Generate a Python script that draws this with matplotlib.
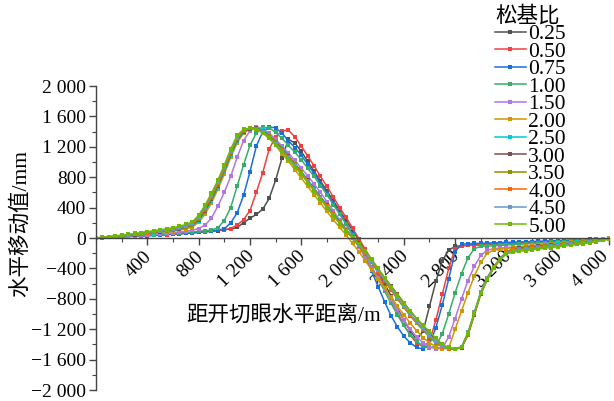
import matplotlib
matplotlib.use("Agg")
import matplotlib.pyplot as plt
import matplotlib.transforms as mtransforms
from matplotlib.ticker import MultipleLocator

plt.rcParams['font.family'] = ['Liberation Serif', 'Noto Sans CJK SC']
plt.rcParams['axes.unicode_minus'] = True

# distance from open-off cut, m (one point every 50 m)
distance = list(range(0, 4001, 50))

ratios = ["0.25", "0.50", "0.75", "1.00", "1.50", "2.00",
          "2.50", "3.00", "3.50", "4.00", "4.50", "5.00"]
colors = ["#515151", "#F14040", "#1A6FDF", "#37AD6B", "#B177DE", "#CC9900",
          "#00CBCC", "#7D4E4E", "#8E8E00", "#FB6501", "#6699CC", "#6FB802"]

# horizontal movement, mm
r025 = [0, 4, 8, 12, 16, 20, 24, 28, 32, 36,
        40, 45, 50, 55, 61, 67, 74, 81, 89, 97,
        108, 120, 140, 200, 260, 310, 380, 520, 760, 1050,
        1300, 1250, 1140, 1010, 880, 750, 620, 490, 360, 230,
        100, -30, -160, -300, -450, -600, -760, -920, -1080, -1220,
        -1340, -1230, -900, -570, -300, -160, -110, -100, -96, -92,
        -88, -84, -80, -76, -72, -68, -64, -60, -56, -52,
        -48, -44, -40, -36, -32, -28, -24, -20, -16, -12,
        -8]
r050 = [0, 4, 8, 12, 16, 20, 24, 28, 32, 36,
        41, 46, 51, 57, 63, 69, 76, 83, 91, 99,
        108, 125, 170, 240, 360, 600, 860, 1170, 1330, 1410,
        1420, 1330, 1210, 1080, 950, 810, 680, 540, 400, 270,
        130, -10, -150, -300, -470, -640, -810, -980, -1140, -1280,
        -1380, -1430, -1360, -1080, -740, -400, -140, -105, -98, -93,
        -88, -84, -80, -76, -72, -68, -64, -60, -56, -52,
        -48, -44, -40, -36, -32, -28, -24, -20, -16, -12,
        -8]
r075 = [0, 4, 8, 12, 16, 20, 24, 28, 32, 37,
        42, 47, 53, 59, 65, 72, 79, 87, 95, 104,
        120, 200, 330, 560, 870, 1210, 1400, 1460, 1450, 1380,
        1280, 1190, 1090, 970, 850, 720, 590, 460, 330, 190,
        50, -100, -260, -440, -640, -840, -1020, -1170, -1290, -1380,
        -1440, -1460, -1400, -1180, -880, -540, -180, -80, -76, -72,
        -70, -67, -64, -61, -58, -55, -52, -49, -46, -43,
        -40, -37, -34, -31, -28, -25, -22, -19, -16, -12,
        -8]
r100 = [0, 4, 8, 13, 18, 23, 28, 33, 38, 43,
        48, 54, 60, 66, 73, 80, 88, 96, 105, 135,
        230, 400, 680, 960, 1220, 1380, 1455, 1450, 1390, 1310,
        1220, 1130, 1030, 920, 810, 690, 570, 440, 310, 180,
        40, -90, -230, -380, -540, -700, -860, -1010, -1150, -1270,
        -1360, -1420, -1450, -1420, -1260, -1000, -720, -470, -260, -140,
        -110, -106, -102, -97, -92, -87, -82, -77, -72, -67,
        -62, -57, -52, -47, -42, -36, -30, -24, -18, -12,
        -6]
r150 = [0, 5, 10, 15, 20, 26, 32, 38, 44, 50,
        56, 63, 70, 78, 88, 102, 125, 170, 260, 420,
        600, 810, 1060, 1280, 1410, 1465, 1440, 1380, 1300, 1210,
        1120, 1020, 920, 820, 710, 600, 480, 360, 240, 120,
        0, -120, -250, -390, -530, -670, -810, -950, -1080, -1200,
        -1300, -1380, -1430, -1460, -1450, -1300, -1060, -800, -560, -370,
        -230, -160, -140, -133, -126, -119, -112, -105, -98, -91,
        -84, -77, -70, -63, -56, -49, -42, -34, -26, -18,
        -10]
r200 = [0, 5, 11, 17, 24, 31, 39, 47, 55, 64,
        73, 82, 92, 104, 120, 145, 205, 315, 460, 640,
        840, 1060, 1250, 1380, 1435, 1445, 1400, 1320, 1220, 1110,
        1010, 900, 790, 680, 570, 460, 350, 240, 140, 40,
        -70, -180, -300, -420, -540, -660, -780, -900, -1010, -1120,
        -1220, -1310, -1380, -1430, -1460, -1450, -1200, -960, -720, -500,
        -320, -200, -160, -148, -138, -128, -119, -110, -102, -94,
        -86, -78, -70, -62, -54, -46, -38, -30, -22, -14,
        -6]
r250 = [0, 6, 12, 19, 27, 35, 43, 52, 61, 70,
        79, 89, 100, 114, 132, 160, 225, 340, 490, 670,
        870, 1080, 1270, 1390, 1440, 1450, 1420, 1355, 1275, 1185,
        1085, 980, 875, 765, 655, 545, 435, 325, 215, 105,
        0, -100, -210, -320, -440, -560, -680, -800, -910, -1020,
        -1120, -1210, -1300, -1380, -1440, -1460, -1460, -1440, -1260, -980,
        -710, -520, -380, -270, -185, -140, -130, -122, -114, -106,
        -98, -90, -82, -74, -66, -57, -48, -39, -30, -20,
        -7]
r300 = [0, 6, 13, 21, 29, 37, 46, 55, 64, 73,
        83, 93, 105, 120, 140, 168, 240, 360, 510, 690,
        890, 1100, 1290, 1400, 1440, 1445, 1410, 1345, 1265, 1175,
        1075, 975, 870, 760, 650, 540, 430, 320, 210, 105,
        5, -90, -190, -300, -410, -520, -630, -740, -850, -960,
        -1060, -1160, -1250, -1340, -1410, -1450, -1460, -1445, -1280, -1010,
        -740, -550, -395, -280, -190, -145, -135, -127, -119, -111,
        -103, -95, -87, -79, -70, -61, -52, -43, -34, -23,
        -8]
r350 = [0, 6, 14, 22, 30, 39, 48, 57, 67, 77,
        87, 97, 110, 126, 146, 176, 250, 375, 530, 700,
        900, 1110, 1300, 1410, 1445, 1440, 1405, 1340, 1260, 1170,
        1070, 970, 865, 755, 645, 535, 425, 315, 205, 105,
        10, -100, -210, -320, -440, -560, -680, -800, -910, -1020,
        -1120, -1210, -1300, -1380, -1430, -1455, -1460, -1440, -1270, -1000,
        -730, -540, -390, -275, -190, -150, -140, -132, -124, -116,
        -108, -99, -90, -81, -72, -63, -54, -45, -35, -24,
        -8]
r400 = [0, 7, 15, 23, 32, 41, 51, 61, 71, 81,
        91, 102, 115, 132, 153, 185, 265, 390, 550, 720,
        920, 1130, 1320, 1415, 1445, 1440, 1400, 1330, 1250, 1160,
        1060, 960, 860, 750, 640, 530, 420, 310, 200, 100,
        5, -95, -200, -310, -430, -550, -670, -790, -900, -1010,
        -1110, -1200, -1290, -1370, -1430, -1455, -1460, -1440, -1260, -990,
        -720, -530, -380, -270, -190, -160, -150, -141, -132, -123,
        -114, -105, -96, -87, -78, -69, -60, -50, -39, -26,
        -10]
r450 = [0, 7, 16, 25, 34, 43, 54, 65, 76, 86,
        97, 108, 122, 140, 162, 195, 280, 410, 570, 740,
        940, 1150, 1330, 1420, 1445, 1435, 1390, 1320, 1240, 1150,
        1050, 950, 850, 740, 630, 520, 410, 300, 195, 95,
        0, -90, -190, -300, -420, -540, -660, -780, -890, -1000,
        -1100, -1190, -1280, -1360, -1420, -1450, -1455, -1430, -1240, -980,
        -710, -530, -390, -280, -200, -170, -160, -150, -140, -130,
        -120, -111, -102, -93, -84, -75, -65, -54, -42, -28,
        -10]
r500 = [0, 8, 18, 28, 38, 48, 60, 72, 85, 95,
        108, 120, 135, 155, 178, 210, 300, 430, 590, 760,
        960, 1170, 1350, 1430, 1447, 1430, 1380, 1310, 1230, 1140,
        1040, 940, 840, 730, 620, 510, 400, 290, 190, 90,
        0, -80, -170, -280, -400, -520, -640, -750, -860, -960,
        -1060, -1150, -1230, -1320, -1400, -1440, -1455, -1440, -1250, -990,
        -720, -540, -400, -290, -210, -185, -175, -165, -155, -145,
        -135, -125, -115, -105, -95, -85, -74, -62, -48, -32,
        -12]

series = [r025, r050, r075, r100, r150, r200,
          r250, r300, r350, r400, r450, r500]

xtick_vals = [400, 800, 1200, 1600, 2000, 2400, 2800, 3200, 3600, 4000]
xtick_text = ["400", "800", "1 200", "1 600", "2 000", "2 400",
              "2 800", "3 200", "3 600", "4 000"]
ytick_vals = [-2000, -1600, -1200, -800, -400, 0, 400, 800, 1200, 1600, 2000]
ytick_text = ["\u22122 000", "\u22121 600", "\u22121 200", "\u2212800", "\u2212400",
              "0", "400", "800", "1 200", "1 600", "2 000"]

fig = plt.figure(figsize=(6.14, 4.01), dpi=100)
ax = fig.add_axes([0.1564, 0.0274, 0.8355, 0.7581])

for lab, col, vals in zip(ratios, colors, series):
    ax.plot(distance, vals, '-s', color=col, lw=1.1, ms=3.5,
            markeredgewidth=0, label=lab)

ax.set_xlim(0, 4000)
ax.set_ylim(-2000, 2000)

ax.spines['top'].set_visible(False)
ax.spines['right'].set_visible(False)
ax.spines['bottom'].set_position(('data', 0))
for s in ['left', 'bottom']:
    ax.spines[s].set_color('#444444')
    ax.spines[s].set_linewidth(1.0)

ax.set_xticks(xtick_vals)
ax.set_xticklabels(xtick_text, rotation=45, ha='right', rotation_mode='anchor')
ax.set_yticks(ytick_vals)
ax.set_yticklabels(ytick_text)
ax.xaxis.set_minor_locator(MultipleLocator(200))
ax.yaxis.set_minor_locator(MultipleLocator(200))
ax.tick_params(which='major', length=5, width=1.0, color='#444444',
               labelsize=14, direction='out')
ax.tick_params(which='minor', length=3, width=0.8, color='#444444',
               direction='out')
ax.tick_params(axis='y', pad=2)
ax.tick_params(axis='x', pad=2)

# nudge rotated x labels a little left; the last one a bit more so it stays inside
xlabels = ax.get_xticklabels()
for i, t in enumerate(xlabels):
    dx = -9 if i == len(xlabels) - 1 else -4
    shift = mtransforms.ScaledTranslation(dx / 100, 0, fig.dpi_scale_trans)
    t.set_transform(t.get_transform() + shift)

fig.text(0.033, 0.443, "水平移动值/mm", rotation=90, fontsize=15.5,
         ha='center', va='center')
fig.text(0.4625, 0.212, "距开切眼水平距离/m", fontsize=15.5,
         ha='center', va='center')

leg = ax.legend(loc='upper left', bbox_to_anchor=(0.806, 0.985),
                bbox_transform=fig.transFigure, frameon=False,
                title="松基比", fontsize=15.5, title_fontsize=15.5,
                labelspacing=-0.12, handlelength=1.45, handletextpad=0.1,
                borderpad=0.0, borderaxespad=0.0)
leg._legend_box.align = 'left'

fig.savefig("out.png", dpi=100)
